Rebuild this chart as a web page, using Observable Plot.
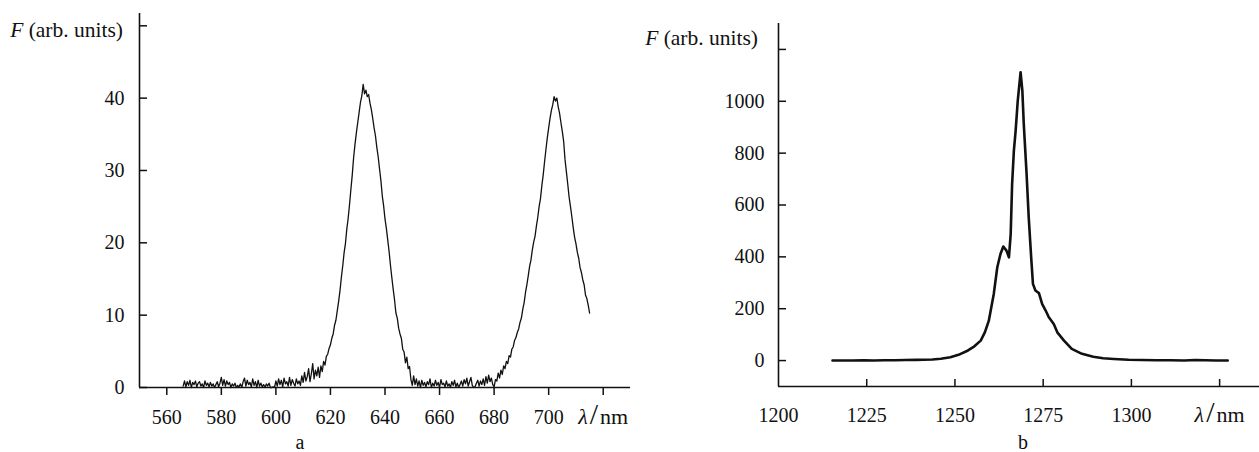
<!DOCTYPE html>
<html><head><meta charset="utf-8">
<script src="https://cdn.jsdelivr.net/npm/d3@7"></script>
<script src="https://cdn.jsdelivr.net/npm/@observablehq/plot@0.6"></script>
<style>
html,body{margin:0;padding:0;background:#fff;}
#wrap{position:relative;width:1259px;height:452px;overflow:hidden;font-family:"Liberation Serif","Times New Roman",serif;color:#111;background:#fff;}
#wrap svg, #wrap svg g, #wrap svg text{font-family:"Liberation Serif","Times New Roman",serif !important;font-size:20px !important;}
.panel{position:absolute;top:0;}
.lab{position:absolute;font-size:21.5px;line-height:20px;white-space:nowrap;color:#111;}
.cap{position:absolute;font-size:20px;line-height:16px;transform:translateX(-50%);color:#111;}
</style></head><body>
<div id="wrap">
  <div id="left" class="panel" style="left:0px"></div>
  <div id="right" class="panel" style="left:640px"></div>
  <div class="lab" style="right:1136px;top:20px"><i>F</i> (arb. units)</div>
  <div class="lab" style="right:501px;top:28px"><i>F</i> (arb. units)</div>
  <div class="cap" style="left:300px;top:434px">a</div>
  <div class="cap" style="left:1023px;top:434px">b</div>
</div>
<script>
// ---------- Panel a : spectrum 566–715 nm ----------
const leftWl = [
566,566.5,567,567.5,568,568.5,569,569.5,570,570.5,
571,571.5,572,572.5,573,573.5,574,574.5,575,575.5,
576,576.5,577,577.5,578,578.5,579,579.5,580,580.5,
581,581.5,582,582.5,583,583.5,584,584.5,585,585.5,
586,586.5,587,587.5,588,588.5,589,589.5,590,590.5,
591,591.5,592,592.5,593,593.5,594,594.5,595,595.5,
596,596.5,597,597.5,598,598.5,599,599.5,600,600.5,
601,601.5,602,602.5,603,603.5,604,604.5,605,605.5,
606,606.5,607,607.5,608,608.5,609,609.5,610,610.5,
611,611.5,612,612.5,613,613.5,614,614.5,615,615.5,
616,616.5,617,617.5,618,618.5,619,619.5,620,620.5,
621,621.5,622,622.5,623,623.5,624,624.5,625,625.5,
626,626.5,627,627.5,628,628.5,629,629.5,630,630.5,
631,631.5,632,632.5,633,633.5,634,634.5,635,635.5,
636,636.5,637,637.5,638,638.5,639,639.5,640,640.5,
641,641.5,642,642.5,643,643.5,644,644.5,645,645.5,
646,646.5,647,647.5,648,648.5,649,649.5,650,650.5,
651,651.5,652,652.5,653,653.5,654,654.5,655,655.5,
656,656.5,657,657.5,658,658.5,659,659.5,660,660.5,
661,661.5,662,662.5,663,663.5,664,664.5,665,665.5,
666,666.5,667,667.5,668,668.5,669,669.5,670,670.5,
671,671.5,672,672.5,673,673.5,674,674.5,675,675.5,
676,676.5,677,677.5,678,678.5,679,679.5,680,680.5,
681,681.5,682,682.5,683,683.5,684,684.5,685,685.5,
686,686.5,687,687.5,688,688.5,689,689.5,690,690.5,
691,691.5,692,692.5,693,693.5,694,694.5,695,695.5,
696,696.5,697,697.5,698,698.5,699,699.5,700,700.5,
701,701.5,702,702.5,703,703.5,704,704.5,705,705.5,
706,706.5,707,707.5,708,708.5,709,709.5,710,710.5,
711,711.5,712,712.5,713,713.5,714,714.5,715
];
const leftF = [
0.2,0.9,0.1,0.8,0.3,1.0,0.0,0.7,0.4,0.9,
0.1,0.6,0.8,0.2,0.5,0.0,0.9,0.3,0.6,0.1,
0.7,0.2,0.5,0.0,0.4,0.8,0.1,0.6,1.4,0.3,
1.1,0.2,0.9,0.4,0.7,0.0,0.5,0.2,0.6,0.0,
0.3,0.1,0.5,0.0,0.8,1.3,0.2,1.0,0.4,0.7,
0.1,1.2,0.3,0.8,0.0,1.0,0.2,0.6,0.1,0.4,
0.0,0.5,0.2,0.6,0.0,0.0,0.1,0.0,0.9,0.2,
1.2,0.4,1.0,0.1,1.3,0.5,0.8,0.2,1.4,0.3,
1.1,0.6,0.2,1.2,0.5,0.9,0.3,1.6,0.7,2.1,
0.9,1.5,2.6,0.8,1.9,3.3,1.2,2.4,1.6,2.8,
1.4,3.0,2.2,3.6,3.1,4.3,4.6,5.4,5.9,6.8,
7.4,8.6,9.3,10.6,11.9,13.4,15.2,16.8,18.6,19.9,
21.9,23.4,25.3,27.4,29.4,31.8,33.6,35.2,36.6,38.0,
39.4,40.3,41.9,40.6,41.1,40.2,40.5,39.3,38.4,37.2,
35.9,34.8,33.2,31.9,30.2,28.6,26.5,25.1,23.3,22.0,
20.4,18.8,16.9,15.2,13.6,12.1,10.3,9.6,8.2,7.4,
6.8,5.3,4.9,3.4,4.2,2.6,2.9,1.1,0.3,1.6,
0.4,1.2,0.2,0.9,0.0,1.0,0.3,0.7,0.1,0.8,
0.4,1.2,0.0,0.6,0.2,1.0,0.3,0.7,0.0,1.1,
0.4,0.6,0.1,0.9,0.2,0.5,0.0,0.8,0.3,1.0,
0.1,0.6,0.0,0.4,0.9,0.2,1.1,0.5,1.3,0.2,
0.8,1.4,0.3,0.0,0.1,0.6,1.0,0.2,0.9,0.4,
1.2,0.3,1.5,0.6,1.7,0.8,1.3,0.4,0.1,1.1,
0.9,2.0,1.3,2.4,1.8,3.0,2.6,3.6,3.3,4.4,
4.2,5.3,5.6,6.5,6.9,7.6,8.1,9.0,9.6,10.8,
11.7,13.1,14.2,15.4,16.7,17.6,19.0,20.1,20.9,22.3,
23.5,25.0,26.1,27.9,29.4,31.2,32.9,34.5,35.9,37.2,
38.3,39.1,40.2,39.6,40.0,38.8,37.9,36.6,35.4,34.0,
31.5,29.8,28.1,26.3,25.0,23.6,22.1,20.8,19.9,18.7,
17.9,16.6,15.9,14.9,14.2,12.8,12.3,11.4,10.3
];
const leftXTicks = [560, 580, 600, 620, 640, 660, 680, 700, 720];
const leftYTicks = [0, 10, 20, 30, 40, 50];

// ---------- Panel b : spectrum 1215–1327 nm ----------
const rightWl = [1215.3,1218,1221,1224,1227,1230,1233,1236,1239,1241,1243.6,1246,1248.7,1251,1253.7,1255.5,1257.3,1258.5,1259.6,1261.0,1262.0,1262.9,1263.7,1264.6,1265.3,1265.8,1266.2,1266.7,1267.2,1267.8,1268.6,1269.1,1269.5,1270.3,1270.9,1271.6,1272.1,1272.8,1273.8,1274.7,1275.7,1276.6,1278.0,1279.0,1280.9,1283.1,1286,1289.2,1292,1295,1299.2,1303,1307,1311,1315,1318,1321,1324,1327.3];
const rightF  = [0,0.5,0,1,0.5,1,1.5,2,2.5,3,4,7,13,22,39,55,77,110,154,257,360,411,440,424,398,489,681,810,887,1003,1112,1041,913,720,553,398,296,270,260,219,193,167,141,109,77,45,26,15,9,6,3,2,1.5,1,0.5,2,1,0.5,0];
const rightXTicks = [1225, 1250, 1275, 1300, 1325];
const rightXLabels = [1200, 1225, 1250, 1275, 1300, 1325];
const rightYTicks = [0, 200, 400, 600, 800, 1000, 1200];

const leftData = leftWl.map((w, i) => ({w, f: leftF[i]}));
const rightData = rightWl.map((w, i) => ({w, f: rightF[i]}));

const ink = "#111";
const style = {fontFamily: "Liberation Serif", fontSize: "20px", background: "white", color: ink, overflow: "visible"};

function fixLambda(svg) {
  d3.select(svg).selectAll("text").each(function () {
    if (this.textContent === "λ/nm") {
      const t = d3.select(this);
      t.text("");
      t.append("tspan").attr("font-style", "italic").attr("font-size", "22px").text("λ");
      t.append("tspan").attr("font-size", "30px").attr("dx", 2).text("/");
      t.append("tspan").attr("font-size", "22px").attr("dx", 2).text("nm");
    }
  });
  return svg;
}

const left = Plot.plot({
  width: 640, height: 452,
  marginLeft: 139, marginRight: 10, marginTop: 13, marginBottom: 65,
  style,
  x: {domain: [550, 730], label: null},
  y: {domain: [0, 51.7], label: null},
  marks: [
    Plot.ruleX([550], {stroke: ink, strokeWidth: 1.6}),
    Plot.ruleY([0], {stroke: ink, strokeWidth: 1.6}),
    Plot.axisX(leftXTicks, {tickSize: 8, fill: "none", stroke: ink, strokeWidth: 1.5, label: null}),
    Plot.axisX(leftXTicks, {tickSize: 0, tickPadding: 22, fill: ink, label: null,
      tickFormat: d => d === 720 ? "λ/nm" : String(d)}),
    Plot.axisY(leftYTicks, {tickSize: -8, fill: "none", stroke: ink, strokeWidth: 1.5, label: null}),
    Plot.axisY(leftYTicks, {tickSize: 0, tickPadding: 15, fill: ink, label: null,
      tickFormat: d => d === 50 ? "" : String(d)}),
    Plot.line(leftData, {x: "w", y: "f", stroke: ink, strokeWidth: 1.3})
  ]
});
document.getElementById("left").appendChild(fixLambda(left));

const right = Plot.plot({
  width: 619, height: 452,
  marginLeft: 138, marginRight: 0, marginTop: 23, marginBottom: 66,
  style,
  x: {domain: [1200, 1336.3], label: null},
  y: {domain: [-100, 1300], label: null},
  marks: [
    Plot.ruleX([1200], {stroke: ink, strokeWidth: 1.6}),
    Plot.ruleY([-100], {stroke: ink, strokeWidth: 1.6}),
    Plot.axisX(rightXTicks, {tickSize: -7, fill: "none", stroke: ink, strokeWidth: 1.5, label: null}),
    Plot.axisX(rightXLabels, {tickSize: 0, tickPadding: 21, fill: ink, label: null,
      tickFormat: d => d === 1325 ? "λ/nm" : String(d)}),
    Plot.axisY(rightYTicks, {tickSize: -8, fill: "none", stroke: ink, strokeWidth: 1.5, label: null}),
    Plot.axisY(rightYTicks, {tickSize: 0, tickPadding: 14, fill: ink, label: null,
      tickFormat: d => d === 1200 ? "" : String(d)}),
    Plot.line(rightData, {x: "w", y: "f", stroke: ink, strokeWidth: 2.6, curve: "linear"})
  ]
});
document.getElementById("right").appendChild(fixLambda(right));
</script>
</body></html>
